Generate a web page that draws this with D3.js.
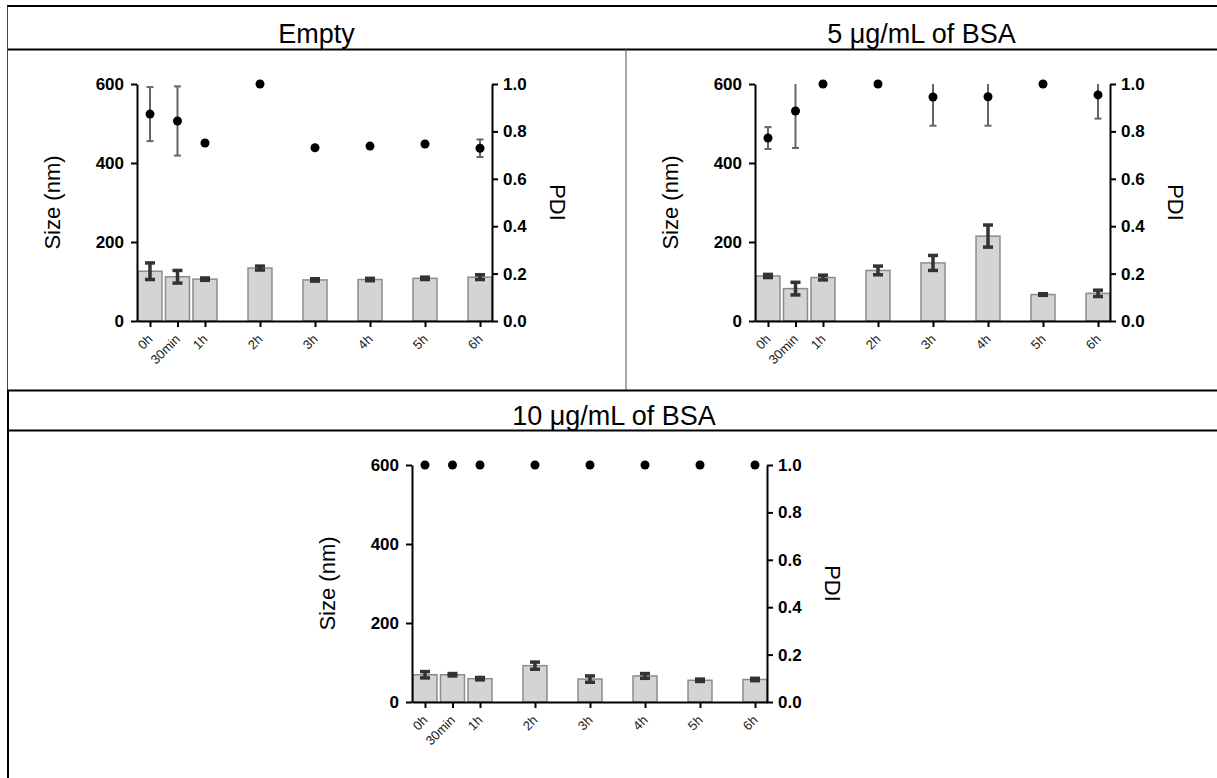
<!DOCTYPE html>
<html>
<head>
<meta charset="utf-8">
<script src="https://cdn.jsdelivr.net/npm/d3@7"></script>
<style>
  body { margin: 0; background: #fff; }
  svg { display: block; font-family: "Liberation Sans", Arial, sans-serif; }
</style>
</head>
<body>
<svg width="1217" height="778"></svg>
<script>
// time points (hours) and their labels
var timeHours = [0, 0.5, 1, 2, 3, 4, 5, 6];
var timeLabels = ["0h", "30min", "1h", "2h", "3h", "4h", "5h", "6h"];
var panelTitles = ["Empty", "5 μg/mL of BSA", "10 μg/mL of BSA"];
var sizeTicks = [0, 200, 400, 600];
var pdiTicks = [0, 0.2, 0.4, 0.6, 0.8, 1.0];

// Empty
var sizeEmpty = [126, 112, 106, 134, 104, 105, 108, 111];
var sizeEmptyErr = [21, 16, 3, 5, 3, 3, 3, 6];
var pdiEmpty = [0.873, 0.844, 0.751, 1.0, 0.731, 0.738, 0.747, 0.729];
var pdiEmptyErr = [0.114, 0.146, 0, 0, 0, 0, 0, 0.037];

// 5 ug/mL BSA
var size5 = [114, 82, 110, 128, 147, 215, 67, 70];
var size5Err = [4, 16, 6, 11, 19, 28, 2, 8];
var pdi5 = [0.772, 0.886, 1.0, 1.0, 0.945, 0.946, 1.0, 0.954];
var pdi5Err = [0.046, 0.156, 0, 0, 0.121, 0.122, 0, 0.10];

// 10 ug/mL BSA
var size10 = [69, 69, 59, 92, 58, 66, 55, 57];
var size10Err = [8, 3, 3, 9, 8, 6, 3, 3];
var pdi10 = [1, 1, 1, 1, 1, 1, 1, 1];
var pdi10Err = [0, 0, 0, 0, 0, 0, 0, 0];

var svg = d3.select("svg");

// table frame
var frame = svg.append("g");
function hline(y, x1, x2, w, c) {
  frame.append("line").attr("x1", x1).attr("x2", x2).attr("y1", y).attr("y2", y)
    .attr("stroke", c || "#000").attr("stroke-width", w);
}
function vline(x, y1, y2, w, c) {
  frame.append("line").attr("x1", x).attr("x2", x).attr("y1", y1).attr("y2", y2)
    .attr("stroke", c || "#000").attr("stroke-width", w);
}
hline(6, 7, 1217, 2);
hline(49.5, 7, 1217, 2);
vline(7.5, 6, 391, 1, "#444");
vline(626, 49, 391, 1, "#555");
hline(390.5, 7, 1217, 2);
hline(430.5, 7, 1217, 2);
vline(8, 390, 778, 2);

function title(text, cx, y) {
  svg.append("text").attr("x", cx).attr("y", y)
    .attr("text-anchor", "middle").style("font-size", "27px").text(text);
}
title(panelTitles[0], 316.5, 43);
title(panelTitles[1], 921.5, 43);
title(panelTitles[2], 614, 425);

var plotW = 355, plotH = 237;

function styleAxis(sel) {
  sel.attr("font-family", null).attr("font-size", null);
  sel.selectAll("path, line").attr("stroke", "#000").attr("stroke-width", 2);
  sel.selectAll(".tick text")
    .style("font-size", "17px").style("font-weight", "bold").attr("fill", "#000");
}

function drawPanel(left, top, sizes, sizeErr, pdis, pdiErr) {
  var g = svg.append("g").attr("transform", "translate(" + left + "," + top + ")");
  var x = d3.scaleLinear().domain([-0.236, 6.218]).range([0, plotW]);
  var y = d3.scaleLinear().domain([0, 600]).range([plotH, 0]);
  var y2 = d3.scaleLinear().domain([0, 1]).range([plotH, 0]);
  var barW = x(0.218) - x(-0.218);

  g.selectAll(".bar")
    .data(sizes)
    .enter().append("rect")
    .attr("class", "bar")
    .attr("x", function (d, i) { return x(timeHours[i]) - barW / 2; })
    .attr("y", function (d) { return y(d); })
    .attr("width", barW)
    .attr("height", function (d) { return plotH - y(d); })
    .attr("fill", "#d4d4d4")
    .attr("stroke", "#8c8c8c")
    .attr("stroke-width", 1.5);

  // size error bars
  sizes.forEach(function (d, i) {
    var cx = x(timeHours[i]);
    var lo = y(d - sizeErr[i]), hi = y(d + sizeErr[i]);
    var e = g.append("g").attr("stroke", "#333").attr("stroke-width", 3.5);
    e.append("line").attr("x1", cx).attr("x2", cx).attr("y1", lo).attr("y2", hi);
    e.append("line").attr("x1", cx - 5).attr("x2", cx + 5).attr("y1", lo).attr("y2", lo);
    e.append("line").attr("x1", cx - 5).attr("x2", cx + 5).attr("y1", hi).attr("y2", hi);
  });

  // PDI error bars (clipped at the axis top)
  pdis.forEach(function (d, i) {
    if (!pdiErr[i]) return;
    var cx = x(timeHours[i]);
    var top = d + pdiErr[i];
    var lo = y2(d - pdiErr[i]), hi = y2(Math.min(top, 1));
    var e = g.append("g").attr("stroke", "#666").attr("stroke-width", 2);
    e.append("line").attr("x1", cx).attr("x2", cx).attr("y1", lo).attr("y2", hi);
    e.append("line").attr("x1", cx - 3.5).attr("x2", cx + 3.5).attr("y1", lo).attr("y2", lo);
    if (top <= 1) {
      e.append("line").attr("x1", cx - 3.5).attr("x2", cx + 3.5).attr("y1", hi).attr("y2", hi);
    }
  });

  g.selectAll(".dot")
    .data(pdis)
    .enter().append("circle")
    .attr("class", "dot")
    .attr("cx", function (d, i) { return x(timeHours[i]); })
    .attr("cy", function (d) { return y2(d); })
    .attr("r", 4.5)
    .attr("fill", "#000");

  g.append("g")
    .attr("class", "axis axis--y")
    .call(d3.axisLeft(y).tickValues(sizeTicks).tickSize(6).tickSizeOuter(0).tickPadding(7))
    .call(styleAxis);
  g.append("g")
    .attr("class", "axis axis--y2")
    .attr("transform", "translate(" + plotW + ",0)")
    .call(d3.axisRight(y2).tickValues(pdiTicks).tickSize(6).tickSizeOuter(0).tickPadding(5)
      .tickFormat(d3.format(".1f")))
    .call(styleAxis);
  var xa = g.append("g")
    .attr("class", "axis axis--x")
    .attr("transform", "translate(0," + plotH + ")")
    .call(d3.axisBottom(x).tickValues(timeHours).tickSize(6).tickSizeOuter(0).tickFormat(""))
    .call(styleAxis);
  // rotated time labels
  xa.selectAll(".tick").each(function (d, i) {
    d3.select(this).append("g")
      .attr("transform", "translate(3,19) rotate(-45)")
      .append("text")
      .attr("text-anchor", "end")
      .attr("fill", "#222")
      .style("font-size", "13px")
      .text(timeLabels[i]);
  });

  g.append("text")
    .attr("transform", "translate(-85," + plotH / 2 + ") rotate(-90)")
    .attr("text-anchor", "middle")
    .attr("dy", "0.35em")
    .style("font-size", "22px")
    .text("Size (nm)");
  g.append("text")
    .attr("transform", "translate(" + (plotW + 66) + "," + plotH / 2 + ") rotate(90)")
    .attr("text-anchor", "middle")
    .attr("dy", "0.35em")
    .style("font-size", "22px")
    .text("PDI");
}

drawPanel(137, 84, sizeEmpty, sizeEmptyErr, pdiEmpty, pdiEmptyErr);
drawPanel(755, 84, size5, size5Err, pdi5, pdi5Err);
drawPanel(412, 465, size10, size10Err, pdi10, pdi10Err);
</script>
</body>
</html>
